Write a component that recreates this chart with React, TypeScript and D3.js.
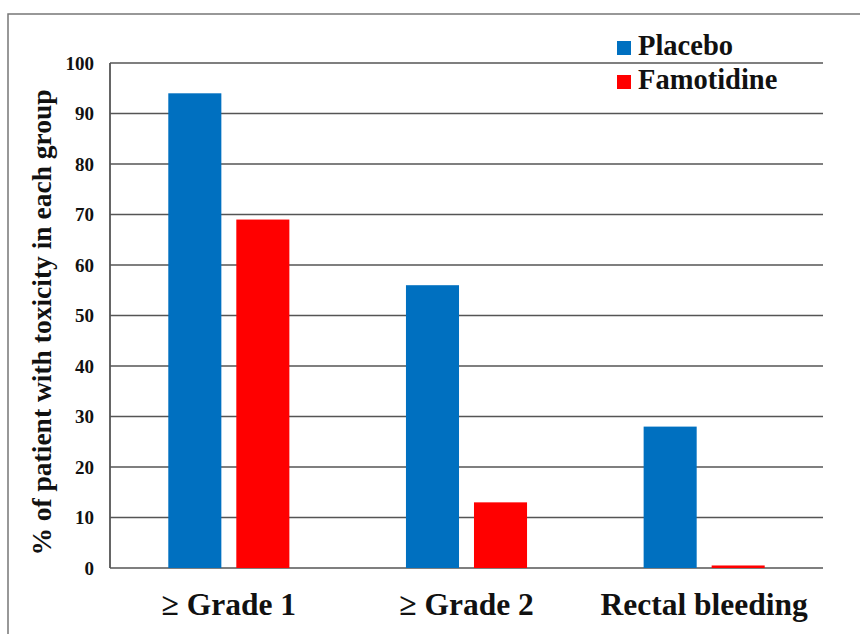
import * as d3 from "d3";

const categories = ["≥ Grade 1", "≥ Grade 2", "Rectal bleeding"];
const seriesNames = ["Placebo", "Famotidine"];
const placebo = [94, 56, 28];
const famotidine = [69, 13, 0.5];
const yTicks = [0, 10, 20, 30, 40, 50, 60, 70, 80, 90, 100];
const colors = ["#0070C0", "#FF0000"];

const W = 860;
const H = 634;
const margin = { left: 110, right: 37, top: 63, bottom: 66 };
const font = "Times New Roman, Liberation Serif, DejaVu Serif, serif";

export default function App() {
  const series = [placebo, famotidine];

  const x0 = d3
    .scaleBand<string>()
    .domain(categories)
    .range([margin.left, W - margin.right])
    .padding(0);

  const x1 = d3
    .scaleBand<string>()
    .domain(seriesNames)
    .range([0, x0.bandwidth()])
    .paddingInner(0.22)
    .paddingOuter(0.857);

  const y = d3
    .scaleLinear()
    .domain([0, 100])
    .range([H - margin.bottom, margin.top]);

  return (
    <div style={{ position: "absolute", left: 0, top: 0 }}>
      <svg width={W} height={H} style={{ display: "block", background: "#fff" }}>
        {/* outer frame (only top & left visible) */}
        <rect x={8} y={14} width={W} height={H} fill="none" stroke="#777" strokeWidth={1.5} />

        {/* gridlines */}
        {yTicks.map((t) => (
          <line
            key={t}
            x1={margin.left}
            x2={W - margin.right}
            y1={y(t)}
            y2={y(t)}
            stroke="#555"
            strokeWidth={1.5}
          />
        ))}
        <line
          x1={margin.left}
          x2={margin.left}
          y1={y(100)}
          y2={y(0)}
          stroke="#555"
          strokeWidth={1.8}
        />

        {/* bars */}
        {categories.map((c, i) => (
          <g key={c} transform={`translate(${x0(c)},0)`}>
            {seriesNames.map((s, j) => (
              <rect
                key={s}
                x={x1(s)}
                y={y(series[j][i])}
                width={x1.bandwidth()}
                height={y(0) - y(series[j][i])}
                fill={colors[j]}
              />
            ))}
          </g>
        ))}

        {/* y tick labels */}
        {yTicks.map((t) => (
          <text
            key={t}
            x={margin.left - 16}
            y={y(t)}
            dy="0.35em"
            textAnchor="end"
            fontFamily={font}
            fontWeight="bold"
            fontSize={19}
            fill="#111"
          >
            {t}
          </text>
        ))}

        {/* category labels */}
        {categories.map((c) => (
          <text
            key={c}
            x={(x0(c) ?? 0) + x0.bandwidth() / 2}
            y={615}
            textAnchor="middle"
            fontFamily={font}
            fontWeight="bold"
            fontSize={31.5}
            fill="#111"
          >
            {c}
          </text>
        ))}

        {/* y axis title */}
        <text
          transform={`translate(51, ${(92 + 553) / 2}) rotate(-90)`}
          textAnchor="middle"
          fontFamily={font}
          fontWeight="bold"
          fontSize={27.5}
          fill="#111"
        >
          % of patient with toxicity in each group
        </text>

        {/* legend */}
        {seriesNames.map((s, j) => (
          <g key={s} transform={`translate(617, ${41 + j * 34})`}>
            <rect width={14} height={14} fill={colors[j]} />
            <text
              x={21}
              y={14}
              fontFamily={font}
              fontWeight="bold"
              fontSize={28.5}
              fill="#111"
            >
              {s}
            </text>
          </g>
        ))}
      </svg>
    </div>
  );
}
